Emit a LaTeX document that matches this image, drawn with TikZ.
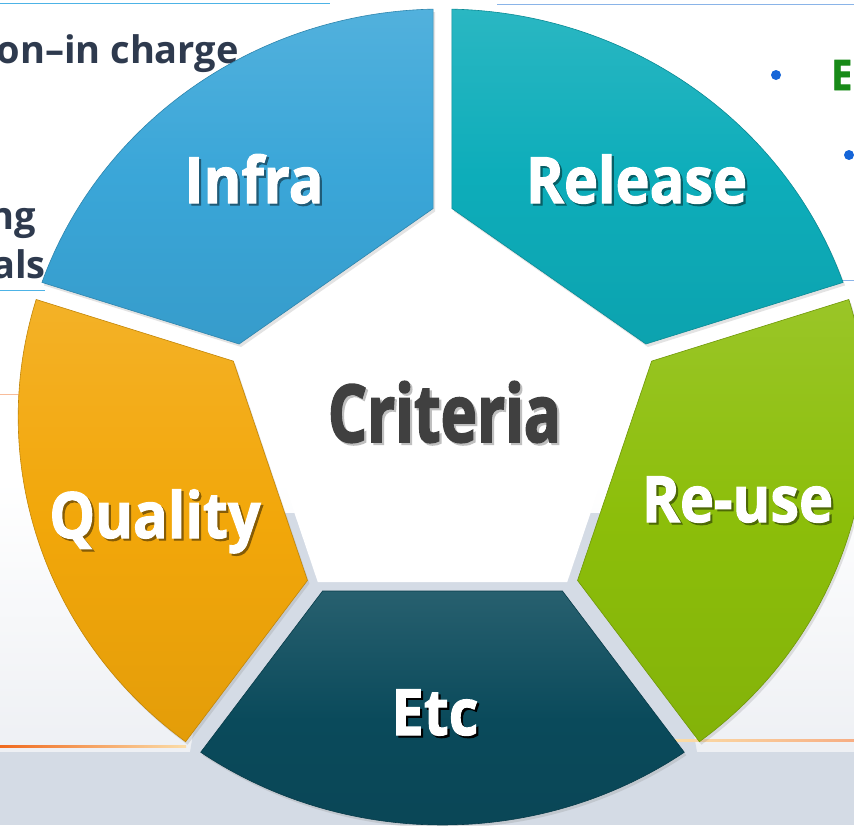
\documentclass[tikz,border=0pt]{standalone}
\usepackage{fontspec}
\setmainfont{Open Sans}
\newfontfamily\labelfont[FakeStretch=0.9, BoldFeatures={FakeBold=1.6}]{Open Sans}
\newfontfamily\centerfont[FakeStretch=0.77, BoldFeatures={FakeBold=2}]{Open Sans}
\newfontfamily\slidefont{Open Sans}
\usepackage{tikz}
\usetikzlibrary{calc}
\usetikzlibrary{shadows}
\usepackage{xcolor}

\definecolor{infrablue}{HTML}{3AA6D8}
\definecolor{releaseteal}{HTML}{0DADBA}
\definecolor{reusegreen}{HTML}{8CBE0A}
\definecolor{etcpetrol}{HTML}{0A4A5B}
\definecolor{qualityamber}{HTML}{F2A70A}
\definecolor{criteriagray}{HTML}{404040}
\definecolor{slateink}{HTML}{2E3A4E}
\definecolor{bulletblue}{HTML}{1565D8}
\definecolor{headgreen}{HTML}{188A18}
\definecolor{ruleblue}{HTML}{4DB3E6}
\definecolor{rulesky}{HTML}{8AB4E8}
\definecolor{bandgray}{HTML}{D4DBE5}
\definecolor{palegray}{HTML}{EEF0F4}
\definecolor{ruleorange}{HTML}{F06A1E}
\definecolor{rulecream}{HTML}{FBDDA8}

% text with a soft drop shadow
\newcommand{\shadowed}[2]{\makebox[0pt][l]{\raisebox{-2.2pt}{\hspace{2.2pt}\textcolor{#1}{#2}}}#2}

\begin{document}
\begin{tikzpicture}[
    x=1pt, y=1pt,
    segment/.style={draw=#1!80!black, line width=0.6pt, top color=#1!88!white,
        bottom color=#1!94!black, middle color=#1,
        drop shadow={opacity=0.22, shadow xshift=2pt, shadow yshift=-3pt}},
    segtext/.style={text=white, anchor=base, inner sep=0pt,
        font=\labelfont\bfseries\fontsize{64}{64}\selectfont},
    slidetext/.style={text=slateink, anchor=base east, inner sep=0pt,
        font=\slidefont\bfseries\fontsize{38}{38}\selectfont},
    rule/.style={line width=1pt}
]
    \useasboundingbox (0,0) rectangle (854,-825);
    \fill[white] (0,0) rectangle (854,-825);

    % Slide background behind the ring
    \shade[top color=white, bottom color=palegray] (0,-480) rectangle (854,-752);
    \fill[bandgray] (230,-513) -- (655,-513) -- (697,-752) -- (190,-752) -- cycle;
    \fill[bandgray] (0,-752) rectangle (854,-825);

    % Rules of the slide
    \draw[rule, ruleblue] (0,-3) -- (330,-3);
    \draw[rule, rulesky] (497,-4) -- (854,-4);
    \draw[rule, ruleblue] (0,-290) -- (45,-290);
    \draw[rule, rulesky] (835,-280) -- (854,-280);
    \draw[rule, ruleorange!45] (0,-394) -- (22,-394);
    \shade[left color=ruleorange, right color=rulecream] (0,-745) rectangle (186,-747.5);
    \shade[left color=rulecream, right color=ruleorange!55] (675,-739) rectangle (854,-741.5);

    % Slide text around the ring
    \node[slidetext] (person) at (239,-63) {on–in charge};
    \node[slidetext] (ng) at (36,-229) {ng};
    \node[slidetext] (als) at (46,-278) {als};
    \fill[bulletblue] (776,-75) circle (5);
    \fill[bulletblue] (849,-155) circle (5);
    \node[text=headgreen, anchor=base west, inner sep=0pt,
        font=\labelfont\bfseries\fontsize{42}{42}\selectfont] (head) at (831,-90) {E};

    % Ring of five segments round a pentagon
    \begin{scope}[shift={(442.5,-417)}, xscale=1.04]
        \fill[white] (90:204) -- (162:204) -- (234:204) -- (306:204) -- (18:204) -- cycle;
        \path[segment=infrablue] (160.74:408) arc[start angle=160.74, end angle=91.26, radius=408]
            -- ($(126:174)+(36:115.3)$) -- ($(126:174)+(216:115.3)$) -- cycle;
        \path[segment=releaseteal] (88.74:408) arc[start angle=88.74, end angle=19.26, radius=408]
            -- ($(54:174)+(-36:115.3)$) -- ($(54:174)+(144:115.3)$) -- cycle;
        \path[segment=reusegreen] (16.74:408) arc[start angle=16.74, end angle=-52.74, radius=408]
            -- ($(-18:174)+(-108:115.3)$) -- ($(-18:174)+(72:115.3)$) -- cycle;
        \path[segment=etcpetrol] (-55.26:408) arc[start angle=-55.26, end angle=-124.74, radius=408]
            -- ($(-90:174)+(180:115.3)$) -- ($(-90:174)+(0:115.3)$) -- cycle;
        \path[segment=qualityamber] (232.74:408) arc[start angle=232.74, end angle=163.26, radius=408]
            -- ($(198:174)+(108:115.3)$) -- ($(198:174)+(288:115.3)$) -- cycle;
    \end{scope}

    % Labels
    \node[segtext] (infra) at (254,-203) {\shadowed{infrablue!55!black}{Infra}};
    \node[segtext] (release) at (636.5,-203) {\shadowed{releaseteal!55!black}{Release}};
    \node[segtext] (reuse) at (737.5,-522) {\shadowed{reusegreen!55!black}{Re-use}};
    \node[segtext] (etc) at (435,-735) {\shadowed{black}{Etc}};
    \node[segtext] (quality) at (155,-538) {\shadowed{qualityamber!55!black}{Quality}};
    \node[text=criteriagray, anchor=base, inner sep=0pt,
        font=\centerfont\bfseries\fontsize{80}{80}\selectfont] (criteria) at (444.5,-442)
        {\shadowed{black!25}{Criteria}};
\end{tikzpicture}
\end{document}
